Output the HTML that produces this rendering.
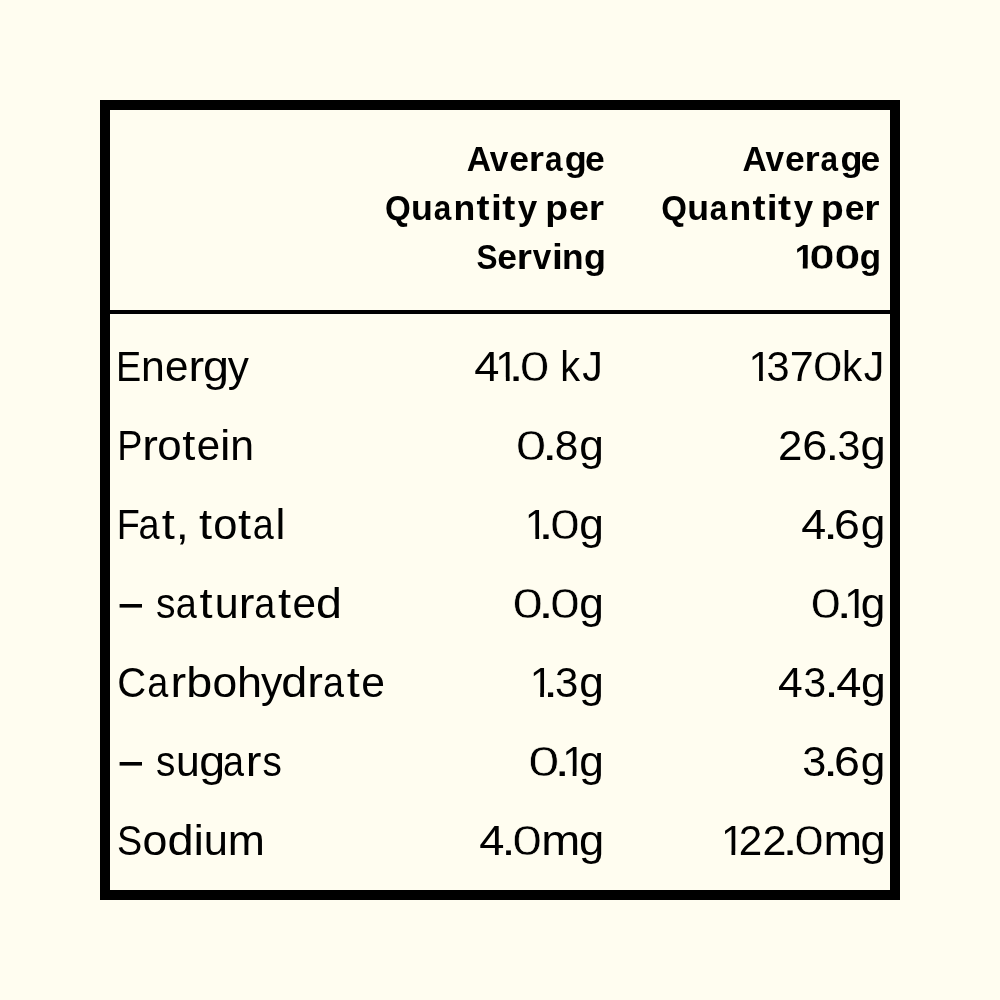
<!DOCTYPE html>
<html><head><meta charset="utf-8"><title>Nutrition Information</title><style>
html,body{margin:0;padding:0;background:#fffdf0;width:1000px;height:1000px;overflow:hidden}
svg{display:block;will-change:transform}
text{font-family:"Liberation Sans",sans-serif;fill:#000;white-space:pre}
</style></head><body>
<svg width="1000" height="1000" viewBox="0 0 1000 1000">
<defs><linearGradient id="one268b" gradientUnits="userSpaceOnUse" x1="0" y1="263.95" x2="0" y2="264.00"><stop offset="0" stop-color="#000"/><stop offset="1" stop-color="#000" stop-opacity="0"/></linearGradient><linearGradient id="one381" gradientUnits="userSpaceOnUse" x1="0" y1="376.95" x2="0" y2="377.00"><stop offset="0" stop-color="#000"/><stop offset="1" stop-color="#000" stop-opacity="0"/></linearGradient><linearGradient id="one539" gradientUnits="userSpaceOnUse" x1="0" y1="534.95" x2="0" y2="535.00"><stop offset="0" stop-color="#000"/><stop offset="1" stop-color="#000" stop-opacity="0"/></linearGradient><linearGradient id="one618" gradientUnits="userSpaceOnUse" x1="0" y1="613.95" x2="0" y2="614.00"><stop offset="0" stop-color="#000"/><stop offset="1" stop-color="#000" stop-opacity="0"/></linearGradient><linearGradient id="one697" gradientUnits="userSpaceOnUse" x1="0" y1="692.95" x2="0" y2="693.00"><stop offset="0" stop-color="#000"/><stop offset="1" stop-color="#000" stop-opacity="0"/></linearGradient><linearGradient id="one776" gradientUnits="userSpaceOnUse" x1="0" y1="771.95" x2="0" y2="772.00"><stop offset="0" stop-color="#000"/><stop offset="1" stop-color="#000" stop-opacity="0"/></linearGradient><linearGradient id="one855" gradientUnits="userSpaceOnUse" x1="0" y1="850.95" x2="0" y2="851.00"><stop offset="0" stop-color="#000"/><stop offset="1" stop-color="#000" stop-opacity="0"/></linearGradient></defs>
<rect x="105" y="105" width="790" height="790" fill="none" stroke="#000" stroke-width="10"/>
<rect x="110" y="310" width="780" height="4" fill="#000"/>
<rect x="119.6" y="604" width="22.4" height="3.6" fill="#000"/>
<rect x="119.6" y="762" width="22.4" height="3.6" fill="#000"/>
<text y="381" font-size="42" font-weight="400"><tspan x="474.16" textLength="25.16" lengthAdjust="spacingAndGlyphs">4</tspan><tspan x="495.33" textLength="23.36" lengthAdjust="spacingAndGlyphs" fill="url(#one381)">1</tspan><tspan x="508.61" textLength="15.17" lengthAdjust="spacingAndGlyphs">.</tspan><tspan x="519.67" textLength="29.67" lengthAdjust="spacingAndGlyphs" stroke="#fffdf0" stroke-width="0.5">0</tspan> <tspan x="560.13" textLength="19.81" lengthAdjust="spacingAndGlyphs">k</tspan><tspan x="582.16" textLength="20.48" lengthAdjust="spacingAndGlyphs">J</tspan></text>
<text y="460" font-size="42" font-weight="400"><tspan x="515.70" textLength="30.60" lengthAdjust="spacingAndGlyphs" stroke="#fffdf0" stroke-width="0.5">0</tspan><tspan x="541.92" textLength="15.47" lengthAdjust="spacingAndGlyphs">.</tspan><tspan x="554.66" textLength="23.59" lengthAdjust="spacingAndGlyphs">8</tspan><tspan x="579.34" textLength="24.61" lengthAdjust="spacingAndGlyphs">g</tspan></text>
<text y="539" font-size="42" font-weight="400"><tspan x="524.83" textLength="23.36" lengthAdjust="spacingAndGlyphs" fill="url(#one539)">1</tspan><tspan x="538.22" textLength="15.47" lengthAdjust="spacingAndGlyphs">.</tspan><tspan x="549.95" textLength="29.90" lengthAdjust="spacingAndGlyphs" stroke="#fffdf0" stroke-width="0.5">0</tspan><tspan x="579.34" textLength="24.61" lengthAdjust="spacingAndGlyphs">g</tspan></text>
<text y="618" font-size="42" font-weight="400"><tspan x="512.61" textLength="30.48" lengthAdjust="spacingAndGlyphs" stroke="#fffdf0" stroke-width="0.5">0</tspan><tspan x="538.22" textLength="15.47" lengthAdjust="spacingAndGlyphs">.</tspan><tspan x="549.95" textLength="29.90" lengthAdjust="spacingAndGlyphs" stroke="#fffdf0" stroke-width="0.5">0</tspan><tspan x="579.34" textLength="24.61" lengthAdjust="spacingAndGlyphs">g</tspan></text>
<text y="697" font-size="42" font-weight="400"><tspan x="529.63" textLength="23.36" lengthAdjust="spacingAndGlyphs" fill="url(#one697)">1</tspan><tspan x="543.11" textLength="15.17" lengthAdjust="spacingAndGlyphs">.</tspan><tspan x="554.90" textLength="23.34" lengthAdjust="spacingAndGlyphs">3</tspan><tspan x="579.34" textLength="24.61" lengthAdjust="spacingAndGlyphs">g</tspan></text>
<text y="776" font-size="42" font-weight="400"><tspan x="528.26" textLength="31.18" lengthAdjust="spacingAndGlyphs" stroke="#fffdf0" stroke-width="0.5">0</tspan><tspan x="554.52" textLength="15.47" lengthAdjust="spacingAndGlyphs">.</tspan><tspan x="562.13" textLength="23.36" lengthAdjust="spacingAndGlyphs" fill="url(#one776)">1</tspan><tspan x="579.34" textLength="24.61" lengthAdjust="spacingAndGlyphs">g</tspan></text>
<text y="855" font-size="42" font-weight="400"><tspan x="479.16" textLength="25.16" lengthAdjust="spacingAndGlyphs">4</tspan><tspan x="501.60" textLength="14.01" lengthAdjust="spacingAndGlyphs">.</tspan><tspan x="512.26" textLength="29.78" lengthAdjust="spacingAndGlyphs" stroke="#fffdf0" stroke-width="0.5">0</tspan><tspan x="541.29" textLength="38.99" lengthAdjust="spacingAndGlyphs">m</tspan><tspan x="578.90" textLength="25.23" lengthAdjust="spacingAndGlyphs">g</tspan></text>
<text y="381" font-size="42" font-weight="400"><tspan x="748.53" textLength="23.36" lengthAdjust="spacingAndGlyphs" fill="url(#one381)">1</tspan><tspan x="766.43" textLength="22.99" lengthAdjust="spacingAndGlyphs">3</tspan><tspan x="789.79" textLength="23.98" lengthAdjust="spacingAndGlyphs">7</tspan><tspan x="812.65" textLength="29.90" lengthAdjust="spacingAndGlyphs" stroke="#fffdf0" stroke-width="0.5">0</tspan><tspan x="842.07" textLength="20.27" lengthAdjust="spacingAndGlyphs">k</tspan><tspan x="863.76" textLength="20.48" lengthAdjust="spacingAndGlyphs">J</tspan></text>
<text y="460" font-size="42" font-weight="400"><tspan x="777.99" textLength="24.42" lengthAdjust="spacingAndGlyphs">2</tspan><tspan x="802.31" textLength="25.07" lengthAdjust="spacingAndGlyphs">6</tspan><tspan x="825.49" textLength="13.71" lengthAdjust="spacingAndGlyphs">.</tspan><tspan x="837.44" textLength="22.76" lengthAdjust="spacingAndGlyphs">3</tspan><tspan x="860.50" textLength="25.23" lengthAdjust="spacingAndGlyphs">g</tspan></text>
<text y="539" font-size="42" font-weight="400"><tspan x="801.27" textLength="24.94" lengthAdjust="spacingAndGlyphs">4</tspan><tspan x="823.11" textLength="15.17" lengthAdjust="spacingAndGlyphs">.</tspan><tspan x="834.13" textLength="25.91" lengthAdjust="spacingAndGlyphs">6</tspan><tspan x="860.84" textLength="24.61" lengthAdjust="spacingAndGlyphs">g</tspan></text>
<text y="618" font-size="42" font-weight="400"><tspan x="810.40" textLength="30.60" lengthAdjust="spacingAndGlyphs" stroke="#fffdf0" stroke-width="0.5">0</tspan><tspan x="836.62" textLength="15.47" lengthAdjust="spacingAndGlyphs">.</tspan><tspan x="844.23" textLength="23.36" lengthAdjust="spacingAndGlyphs" fill="url(#one618)">1</tspan><tspan x="860.84" textLength="24.61" lengthAdjust="spacingAndGlyphs">g</tspan></text>
<text y="697" font-size="42" font-weight="400"><tspan x="777.98" textLength="24.72" lengthAdjust="spacingAndGlyphs">4</tspan><tspan x="803.45" textLength="22.64" lengthAdjust="spacingAndGlyphs">3</tspan><tspan x="824.31" textLength="14.59" lengthAdjust="spacingAndGlyphs">.</tspan><tspan x="836.16" textLength="25.16" lengthAdjust="spacingAndGlyphs">4</tspan><tspan x="860.93" textLength="24.73" lengthAdjust="spacingAndGlyphs">g</tspan></text>
<text y="776" font-size="42" font-weight="400"><tspan x="802.25" textLength="24.05" lengthAdjust="spacingAndGlyphs">3</tspan><tspan x="823.11" textLength="15.17" lengthAdjust="spacingAndGlyphs">.</tspan><tspan x="834.13" textLength="25.91" lengthAdjust="spacingAndGlyphs">6</tspan><tspan x="860.84" textLength="24.61" lengthAdjust="spacingAndGlyphs">g</tspan></text>
<text y="855" font-size="42" font-weight="400"><tspan x="720.93" textLength="23.36" lengthAdjust="spacingAndGlyphs" fill="url(#one855)">1</tspan><tspan x="738.68" textLength="23.44" lengthAdjust="spacingAndGlyphs">2</tspan><tspan x="762.64" textLength="23.93" lengthAdjust="spacingAndGlyphs">2</tspan><tspan x="782.61" textLength="15.17" lengthAdjust="spacingAndGlyphs">.</tspan><tspan x="794.17" textLength="29.67" lengthAdjust="spacingAndGlyphs" stroke="#fffdf0" stroke-width="0.5">0</tspan><tspan x="823.42" textLength="38.64" lengthAdjust="spacingAndGlyphs">m</tspan><tspan x="860.59" textLength="25.35" lengthAdjust="spacingAndGlyphs">g</tspan></text>
<text y="268.5" font-size="35" font-weight="700"><tspan x="794.63" textLength="19.47" lengthAdjust="spacingAndGlyphs" fill="url(#one268b)">1</tspan><tspan x="809.34" textLength="25.49" lengthAdjust="spacingAndGlyphs" stroke="#fffdf0" stroke-width="0.5">0</tspan><tspan x="834.39" textLength="26.19" lengthAdjust="spacingAndGlyphs" stroke="#fffdf0" stroke-width="0.5">0</tspan><tspan x="859.76" textLength="21.38" lengthAdjust="spacingAndGlyphs">g</tspan></text>
<text y="170.8" font-size="35" font-weight="700"><tspan x="466.66" textLength="24.37" lengthAdjust="spacingAndGlyphs">A</tspan><tspan x="489.87" textLength="18.58" lengthAdjust="spacingAndGlyphs">v</tspan><tspan x="509.27" textLength="19.73" lengthAdjust="spacingAndGlyphs">e</tspan><tspan x="528.85" textLength="15.22" lengthAdjust="spacingAndGlyphs">r</tspan><tspan x="544.90" textLength="17.52" lengthAdjust="spacingAndGlyphs">a</tspan><tspan x="564.88" textLength="22.06" lengthAdjust="spacingAndGlyphs">g</tspan><tspan x="584.98" textLength="19.73" lengthAdjust="spacingAndGlyphs">e</tspan></text>
<text y="219.8" font-size="35" font-weight="700"><tspan x="384.94" textLength="25.78" lengthAdjust="spacingAndGlyphs">Q</tspan><tspan x="411.06" textLength="21.85" lengthAdjust="spacingAndGlyphs">u</tspan><tspan x="433.83" textLength="17.52" lengthAdjust="spacingAndGlyphs">a</tspan><tspan x="453.48" textLength="21.77" lengthAdjust="spacingAndGlyphs">n</tspan><tspan x="476.51" textLength="13.05" lengthAdjust="spacingAndGlyphs">t</tspan><tspan x="490.96" textLength="10.89" lengthAdjust="spacingAndGlyphs">i</tspan><tspan x="502.24" textLength="13.05" lengthAdjust="spacingAndGlyphs">t</tspan><tspan x="517.86" textLength="19.45" lengthAdjust="spacingAndGlyphs">y</tspan> <tspan x="545.38" textLength="22.78" lengthAdjust="spacingAndGlyphs">p</tspan><tspan x="569.08" textLength="19.85" lengthAdjust="spacingAndGlyphs">e</tspan><tspan x="588.81" textLength="15.26" lengthAdjust="spacingAndGlyphs">r</tspan></text>
<text y="268.5" font-size="35" font-weight="700"><tspan x="476.53" textLength="21.01" lengthAdjust="spacingAndGlyphs">S</tspan><tspan x="497.18" textLength="19.66" lengthAdjust="spacingAndGlyphs">e</tspan><tspan x="516.68" textLength="15.17" lengthAdjust="spacingAndGlyphs">r</tspan><tspan x="532.71" textLength="18.51" lengthAdjust="spacingAndGlyphs">v</tspan><tspan x="552.03" textLength="10.89" lengthAdjust="spacingAndGlyphs">i</tspan><tspan x="561.98" textLength="21.57" lengthAdjust="spacingAndGlyphs">n</tspan><tspan x="583.93" textLength="21.97" lengthAdjust="spacingAndGlyphs">g</tspan></text>
<text y="170.8" font-size="35" font-weight="700"><tspan x="742.46" textLength="24.32" lengthAdjust="spacingAndGlyphs">A</tspan><tspan x="765.62" textLength="18.54" lengthAdjust="spacingAndGlyphs">v</tspan><tspan x="784.99" textLength="19.68" lengthAdjust="spacingAndGlyphs">e</tspan><tspan x="804.52" textLength="15.19" lengthAdjust="spacingAndGlyphs">r</tspan><tspan x="820.51" textLength="17.52" lengthAdjust="spacingAndGlyphs">a</tspan><tspan x="840.46" textLength="22.01" lengthAdjust="spacingAndGlyphs">g</tspan><tspan x="860.53" textLength="19.68" lengthAdjust="spacingAndGlyphs">e</tspan></text>
<text y="219.8" font-size="35" font-weight="700"><tspan x="661.15" textLength="25.69" lengthAdjust="spacingAndGlyphs">Q</tspan><tspan x="687.19" textLength="21.76" lengthAdjust="spacingAndGlyphs">u</tspan><tspan x="709.84" textLength="17.52" lengthAdjust="spacingAndGlyphs">a</tspan><tspan x="729.46" textLength="21.71" lengthAdjust="spacingAndGlyphs">n</tspan><tspan x="752.40" textLength="13.05" lengthAdjust="spacingAndGlyphs">t</tspan><tspan x="766.81" textLength="10.89" lengthAdjust="spacingAndGlyphs">i</tspan><tspan x="778.04" textLength="13.05" lengthAdjust="spacingAndGlyphs">t</tspan><tspan x="793.63" textLength="19.39" lengthAdjust="spacingAndGlyphs">y</tspan> <tspan x="821.07" textLength="22.70" lengthAdjust="spacingAndGlyphs">p</tspan><tspan x="844.69" textLength="19.79" lengthAdjust="spacingAndGlyphs">e</tspan><tspan x="864.33" textLength="15.26" lengthAdjust="spacingAndGlyphs">r</tspan></text>
<text y="381" font-size="42" font-weight="400"><tspan x="116.05" textLength="25.21" lengthAdjust="spacingAndGlyphs">E</tspan><tspan x="141.13" textLength="23.81" lengthAdjust="spacingAndGlyphs">n</tspan><tspan x="164.90" textLength="23.40" lengthAdjust="spacingAndGlyphs">e</tspan><tspan x="188.41" textLength="15.66" lengthAdjust="spacingAndGlyphs">r</tspan><tspan x="202.96" textLength="25.96" lengthAdjust="spacingAndGlyphs">g</tspan><tspan x="227.78" textLength="21.11" lengthAdjust="spacingAndGlyphs">y</tspan></text>
<text y="460" font-size="42" font-weight="400"><tspan x="117.31" textLength="25.21" lengthAdjust="spacingAndGlyphs">P</tspan><tspan x="142.30" textLength="15.66" lengthAdjust="spacingAndGlyphs">r</tspan><tspan x="157.23" textLength="24.39" lengthAdjust="spacingAndGlyphs">o</tspan><tspan x="182.31" textLength="13.07" lengthAdjust="spacingAndGlyphs">t</tspan><tspan x="196.73" textLength="23.37" lengthAdjust="spacingAndGlyphs">e</tspan><tspan x="220.01" textLength="10.45" lengthAdjust="spacingAndGlyphs">i</tspan><tspan x="230.18" textLength="23.80" lengthAdjust="spacingAndGlyphs">n</tspan></text>
<text y="539" font-size="42" font-weight="400"><tspan x="116.81" textLength="23.09" lengthAdjust="spacingAndGlyphs">F</tspan><tspan x="138.42" textLength="21.02" lengthAdjust="spacingAndGlyphs">a</tspan><tspan x="161.80" textLength="13.07" lengthAdjust="spacingAndGlyphs">t</tspan><tspan x="175.79" textLength="13.07" lengthAdjust="spacingAndGlyphs">,</tspan> <tspan x="198.91" textLength="13.07" lengthAdjust="spacingAndGlyphs">t</tspan><tspan x="213.20" textLength="24.16" lengthAdjust="spacingAndGlyphs">o</tspan><tspan x="237.97" textLength="13.07" lengthAdjust="spacingAndGlyphs">t</tspan><tspan x="252.67" textLength="21.02" lengthAdjust="spacingAndGlyphs">a</tspan><tspan x="275.49" textLength="9.88" lengthAdjust="spacingAndGlyphs">l</tspan></text>
<text y="618" font-size="42" font-weight="400"><tspan x="156.11" textLength="19.49" lengthAdjust="spacingAndGlyphs">s</tspan><tspan x="175.86" textLength="21.02" lengthAdjust="spacingAndGlyphs">a</tspan><tspan x="199.55" textLength="13.07" lengthAdjust="spacingAndGlyphs">t</tspan><tspan x="214.88" textLength="23.89" lengthAdjust="spacingAndGlyphs">u</tspan><tspan x="238.71" textLength="15.66" lengthAdjust="spacingAndGlyphs">r</tspan><tspan x="254.28" textLength="21.02" lengthAdjust="spacingAndGlyphs">a</tspan><tspan x="277.97" textLength="13.07" lengthAdjust="spacingAndGlyphs">t</tspan><tspan x="292.44" textLength="23.53" lengthAdjust="spacingAndGlyphs">e</tspan><tspan x="316.10" textLength="25.90" lengthAdjust="spacingAndGlyphs">d</tspan></text>
<text y="697" font-size="42" font-weight="400"><tspan x="117.37" textLength="28.91" lengthAdjust="spacingAndGlyphs">C</tspan><tspan x="147.17" textLength="21.02" lengthAdjust="spacingAndGlyphs">a</tspan><tspan x="170.44" textLength="15.66" lengthAdjust="spacingAndGlyphs">r</tspan><tspan x="186.27" textLength="25.95" lengthAdjust="spacingAndGlyphs">b</tspan><tspan x="212.40" textLength="24.69" lengthAdjust="spacingAndGlyphs">o</tspan><tspan x="237.08" textLength="25.03" lengthAdjust="spacingAndGlyphs">h</tspan><tspan x="261.08" textLength="21.35" lengthAdjust="spacingAndGlyphs">y</tspan><tspan x="281.18" textLength="26.04" lengthAdjust="spacingAndGlyphs">d</tspan><tspan x="307.23" textLength="15.66" lengthAdjust="spacingAndGlyphs">r</tspan><tspan x="322.90" textLength="21.02" lengthAdjust="spacingAndGlyphs">a</tspan><tspan x="346.71" textLength="13.07" lengthAdjust="spacingAndGlyphs">t</tspan><tspan x="361.22" textLength="23.67" lengthAdjust="spacingAndGlyphs">e</tspan></text>
<text y="776" font-size="42" font-weight="400"><tspan x="156.12" textLength="19.34" lengthAdjust="spacingAndGlyphs">s</tspan><tspan x="176.01" textLength="23.70" lengthAdjust="spacingAndGlyphs">u</tspan><tspan x="199.34" textLength="25.90" lengthAdjust="spacingAndGlyphs">g</tspan><tspan x="222.88" textLength="21.02" lengthAdjust="spacingAndGlyphs">a</tspan><tspan x="245.85" textLength="15.66" lengthAdjust="spacingAndGlyphs">r</tspan><tspan x="262.45" textLength="19.34" lengthAdjust="spacingAndGlyphs">s</tspan></text>
<text y="855" font-size="42" font-weight="400"><tspan x="116.90" textLength="25.21" lengthAdjust="spacingAndGlyphs">S</tspan><tspan x="142.45" textLength="24.86" lengthAdjust="spacingAndGlyphs">o</tspan><tspan x="167.51" textLength="26.16" lengthAdjust="spacingAndGlyphs">d</tspan><tspan x="193.47" textLength="10.45" lengthAdjust="spacingAndGlyphs">i</tspan><tspan x="203.68" textLength="24.21" lengthAdjust="spacingAndGlyphs">u</tspan><tspan x="227.80" textLength="37.14" lengthAdjust="spacingAndGlyphs">m</tspan></text>
<rect x="505.89" y="377.00" width="3.71" height="4.0" fill="#000"/>
<rect x="535.39" y="535.00" width="3.71" height="4.0" fill="#000"/>
<rect x="540.19" y="693.00" width="3.71" height="4.0" fill="#000"/>
<rect x="572.69" y="772.00" width="3.71" height="4.0" fill="#000"/>
<rect x="759.09" y="377.00" width="3.71" height="4.0" fill="#000"/>
<rect x="854.79" y="614.00" width="3.71" height="4.0" fill="#000"/>
<rect x="731.49" y="851.00" width="3.71" height="4.0" fill="#000"/>
<rect x="802.80" y="264.00" width="4.80" height="4.5" fill="#000"/>
</svg>
</body></html>
